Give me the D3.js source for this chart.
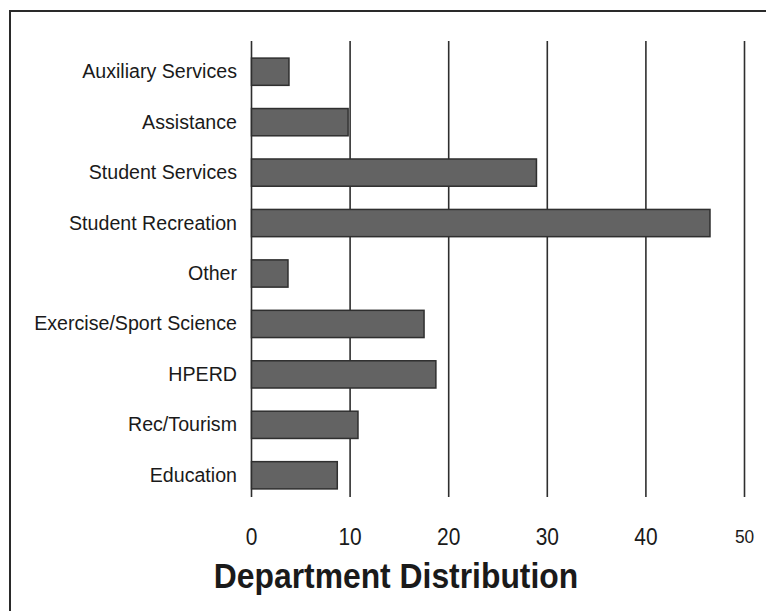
<!DOCTYPE html>
<html>
<head>
<meta charset="utf-8">
<script src="https://cdn.jsdelivr.net/npm/d3@7"></script>
<style>
  html, body { margin: 0; padding: 0; background: #fff; }
  svg { display: block; }
</style>
</head>
<body>
<svg id="chart" width="766" height="611"></svg>
<script>
const categories = ["Auxiliary Services", "Assistance", "Student Services", "Student Recreation", "Other",
                    "Exercise/Sport Science", "HPERD", "Rec/Tourism", "Education"];
const values = [3.8, 9.8, 28.9, 46.5, 3.7, 17.5, 18.7, 10.8, 8.7];
const tickValues = [0, 10, 20, 30, 40, 50];
const title = "Department Distribution";

const svg = d3.select("#chart");
const font = "'Liberation Sans', Arial, Helvetica, sans-serif";
const squeeze = 0.91;
const labelSqueeze = 0.935;

// frame
svg.append("rect").attr("x", 10).attr("y", 11).attr("width", 800).attr("height", 700)
  .attr("fill", "none").attr("stroke", "#2a2a2a").attr("stroke-width", 2);

const x = d3.scaleLinear().domain([0, 50]).range([251.5, 744.5]);
const y = d3.scaleBand().domain(categories).range([46.5, 500.5]).paddingInner(0.46).paddingOuter(0.23);

// gridlines
svg.append("g").selectAll("line").data(tickValues).join("line")
  .attr("x1", d => x(d)).attr("x2", d => x(d))
  .attr("y1", 41).attr("y2", 497)
  .attr("stroke", "#2e2e2e").attr("stroke-width", 1.6);

// bars
svg.append("g").selectAll("rect").data(categories).join("rect")
  .attr("x", x(0))
  .attr("y", d => y(d))
  .attr("width", (d, i) => x(values[i]) - x(0))
  .attr("height", y.bandwidth())
  .attr("fill", "#636363")
  .attr("stroke", "#2f2f2f").attr("stroke-width", 1.5);

// category labels
svg.append("g").selectAll("text").data(categories).join("text")
  .attr("transform", d => `translate(237,${y(d) + y.bandwidth() / 2 + 6.5}) scale(${labelSqueeze},1)`)
  .attr("text-anchor", "end")
  .attr("font-family", font)
  .attr("font-size", 21)
  .attr("fill", "#1a1a1a")
  .text(d => d);

// x axis tick labels
svg.append("g").selectAll("text").data(tickValues).join("text")
  .attr("transform", d => `translate(${x(d)},${d === 50 ? 543 : 545}) scale(${squeeze},1)`)
  .attr("text-anchor", "middle")
  .attr("font-family", font)
  .attr("font-size", d => d === 50 ? 19 : 23)
  .attr("fill", "#1a1a1a")
  .text(d => d);

// title
svg.append("text")
  .attr("transform", `translate(396,588) scale(${squeeze},1)`)
  .attr("text-anchor", "middle")
  .attr("font-family", font)
  .attr("font-weight", "bold")
  .attr("font-size", 35)
  .attr("fill", "#1a1a1a")
  .text(title);
</script>
</body>
</html>
